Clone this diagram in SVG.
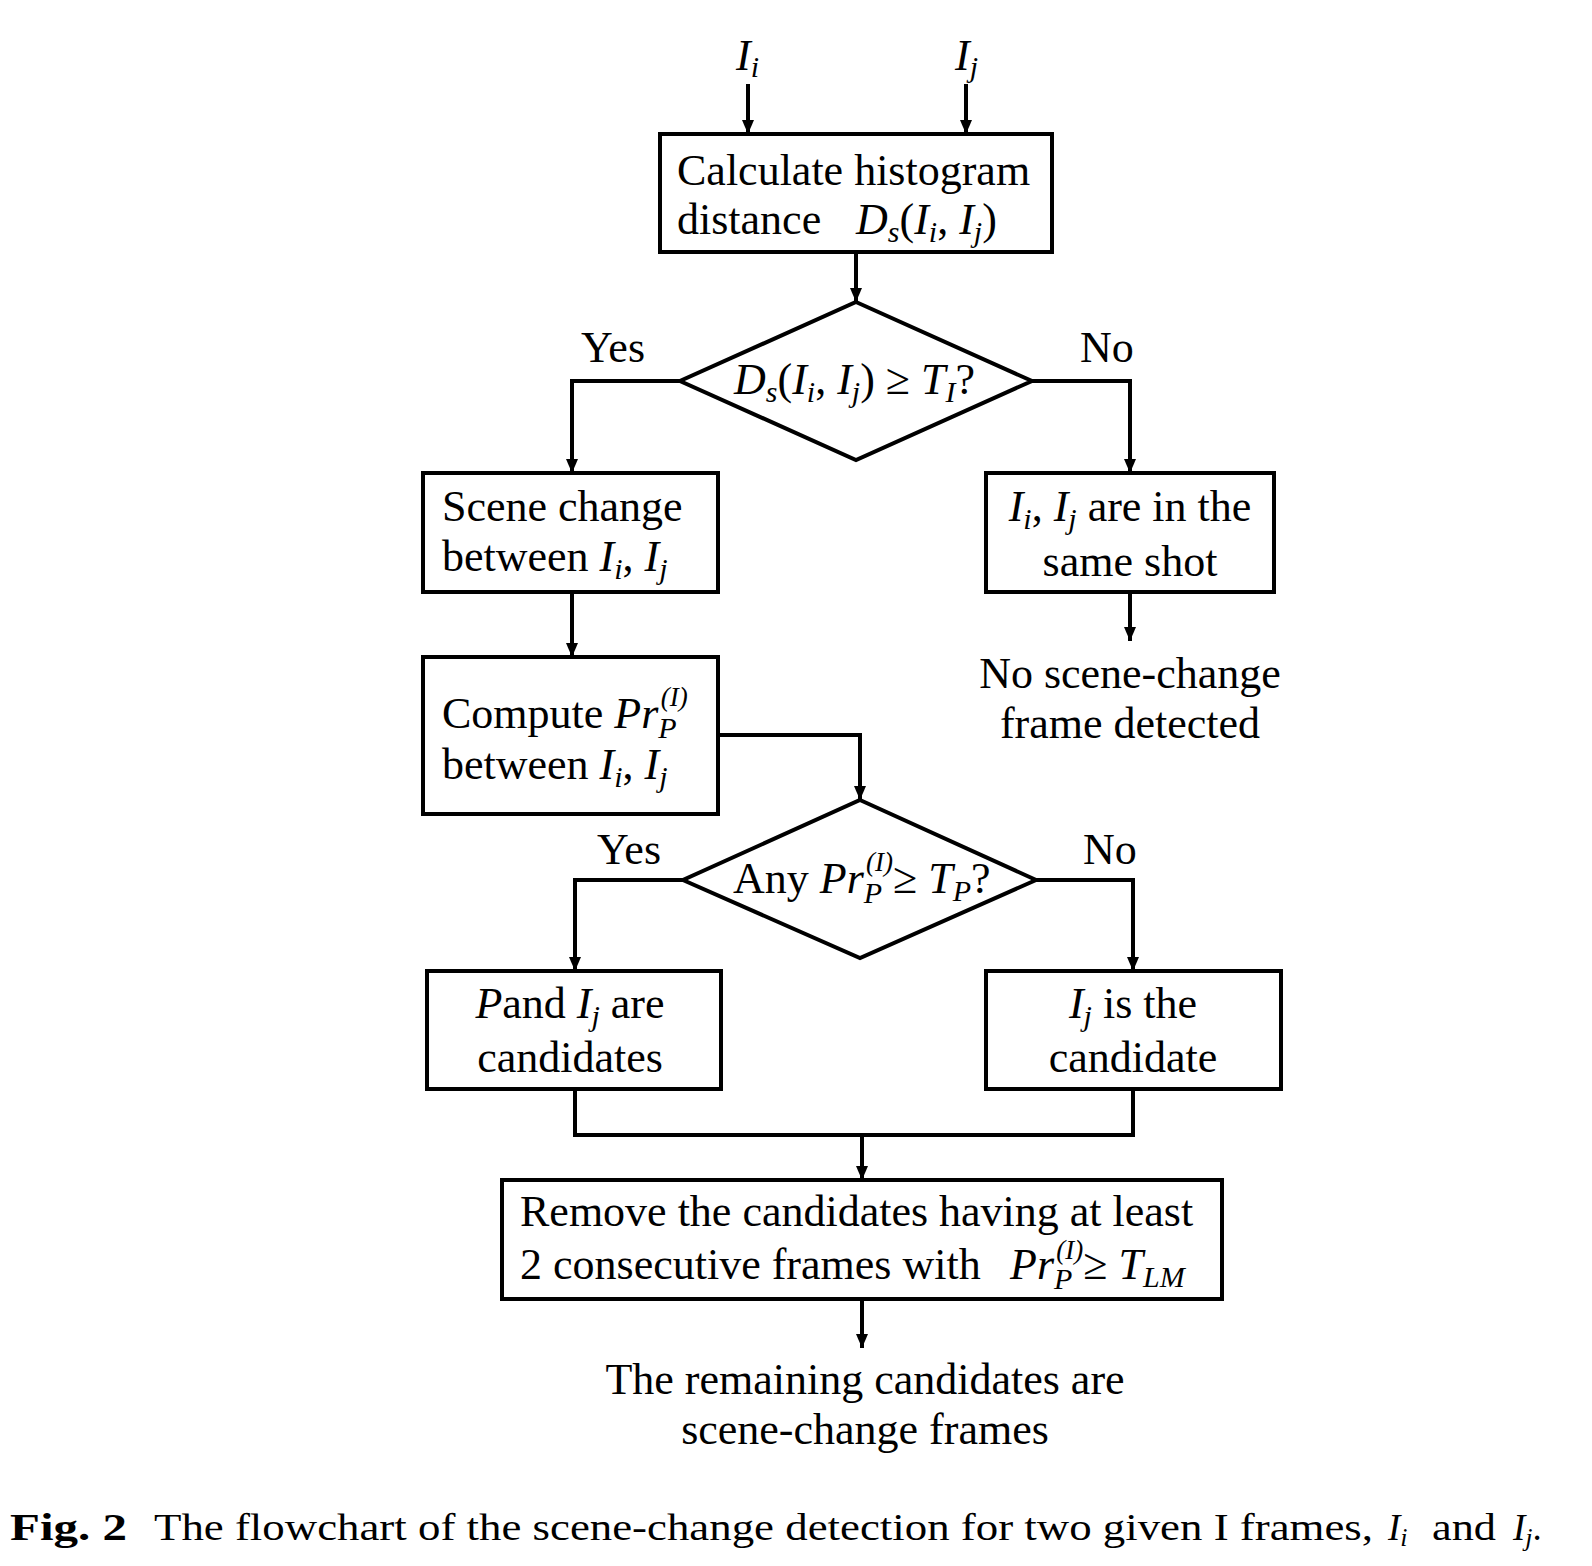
<svg xmlns="http://www.w3.org/2000/svg" width="1592" height="1566" viewBox="0 0 1592 1566">
<style>
.t{font-family:"Liberation Serif","DejaVu Serif",serif;font-size:44px;fill:#000}
.m{font-style:italic}
.s{font-size:30px;font-style:italic}
.sup{font-size:27px;font-style:italic}
.box{fill:#fff;stroke:#000;stroke-width:4}
.ln{fill:none;stroke:#000;stroke-width:4;marker-end:url(#ah)}
.ln2{fill:none;stroke:#000;stroke-width:4}
.cap{font-family:"Liberation Serif","DejaVu Serif",serif;font-size:37px;fill:#000}
</style>
<defs>
<marker id="ah" markerUnits="userSpaceOnUse" markerWidth="14" markerHeight="12" refX="14" refY="6" orient="auto" viewBox="0 0 14 12">
<path d="M0,0 L14,6 L0,12 z" fill="#000"/>
</marker>
</defs>
<rect width="1592" height="1566" fill="#fff"/>

<g id="connectors">
<path class="ln" d="M748,84 V134"/>
<path class="ln" d="M966,84 V134"/>
<path class="ln" d="M856,252 V302"/>
<path class="ln" d="M680,381 H572 V473"/>
<path class="ln" d="M1032,381 H1130 V473"/>
<path class="ln" d="M1130,592 V641"/>
<path class="ln" d="M572,592 V657"/>
<path class="ln" d="M718,735 H860 V800"/>
<path class="ln" d="M683,880 H575 V971"/>
<path class="ln" d="M1036,880 H1133 V971"/>
<path class="ln2" d="M575,1089 V1135 H1133 V1089"/>
<path class="ln" d="M862,1135 V1180"/>
<path class="ln" d="M862,1299 V1348"/>
</g>

<g id="in-i"><text class="t m" x="736" y="70" font-size="42">I<tspan class="s" dy="7" font-size="28">i</tspan></text></g>
<g id="in-j"><text class="t m" x="955" y="70" font-size="42">I<tspan class="s" dy="7" font-size="28">j</tspan></text></g>

<g id="calc">
<rect class="box" x="660" y="134" width="392" height="118"/>
<text class="t" x="677" y="185">Calculate histogram</text>
<text class="t" x="677" y="234">distance<tspan x="856" class="m">D</tspan><tspan class="s" dy="8">s</tspan><tspan dy="-8">(</tspan><tspan class="m">I</tspan><tspan class="s" dy="8">i</tspan><tspan dy="-8">, </tspan><tspan class="m">I</tspan><tspan class="s" dy="8">j</tspan><tspan dy="-8">)</tspan></text>
</g>

<g id="dec1">
<polygon class="box" points="856,302 1032,381 856,460 680,381"/>
<text class="t" x="734" y="394"><tspan class="m">D</tspan><tspan class="s" dy="8">s</tspan><tspan dy="-8">(</tspan><tspan class="m">I</tspan><tspan class="s" dy="8">i</tspan><tspan dy="-8">, </tspan><tspan class="m">I</tspan><tspan class="s" dy="8">j</tspan><tspan dy="-8">) ≥ </tspan><tspan class="m">T</tspan><tspan class="s" dy="8">I</tspan><tspan dy="-8">?</tspan></text>
<text class="t" x="581" y="362">Yes</text>
<text class="t" x="1080" y="362">No</text>
</g>

<g id="scene">
<rect class="box" x="423" y="473" width="295" height="119"/>
<text class="t" x="442" y="521">Scene change</text>
<text class="t" x="442" y="571">between <tspan class="m">I</tspan><tspan class="s" dy="8">i</tspan><tspan dy="-8">, </tspan><tspan class="m">I</tspan><tspan class="s" dy="8">j</tspan></text>
</g>

<g id="same">
<rect class="box" x="986" y="473" width="288" height="119"/>
<text class="t" x="1130" y="521" text-anchor="middle"><tspan class="m">I</tspan><tspan class="s" dy="8">i</tspan><tspan dy="-8">, </tspan><tspan class="m">I</tspan><tspan class="s" dy="8">j</tspan><tspan dy="-8"> are in the</tspan></text>
<text class="t" x="1130" y="576" text-anchor="middle">same shot</text>
</g>

<g id="noscene">
<text class="t" x="1130" y="688" text-anchor="middle">No scene-change</text>
<text class="t" x="1130" y="738" text-anchor="middle">frame detected</text>
</g>

<g id="compute">
<rect class="box" x="423" y="657" width="295" height="157"/>
<text class="t" x="442" y="728">Compute <tspan class="m">Pr</tspan><tspan class="s" dy="10">P</tspan><tspan class="sup" dx="-16" dy="-32">(I)</tspan></text>
<text class="t" x="442" y="779">between <tspan class="m">I</tspan><tspan class="s" dy="8">i</tspan><tspan dy="-8">, </tspan><tspan class="m">I</tspan><tspan class="s" dy="8">j</tspan></text>
</g>

<g id="dec2">
<polygon class="box" points="860,800 1036,880 860,958 683,880"/>
<text class="t" x="733" y="893">Any <tspan class="m">Pr</tspan><tspan class="s" dy="10">P</tspan><tspan class="sup" dx="-16" dy="-32">(I)</tspan><tspan dy="22">≥ </tspan><tspan class="m">T</tspan><tspan class="s" dy="8">P</tspan><tspan dy="-8">?</tspan></text>
<text class="t" x="597" y="864">Yes</text>
<text class="t" x="1083" y="864">No</text>
</g>

<g id="both">
<rect class="box" x="427" y="971" width="294" height="118"/>
<text class="t" x="570" y="1018" text-anchor="middle"><tspan class="m">P</tspan>and <tspan class="m">I</tspan><tspan class="s" dy="8">j</tspan><tspan dy="-8"> are</tspan></text>
<text class="t" x="570" y="1072" text-anchor="middle">candidates</text>
</g>

<g id="only">
<rect class="box" x="986" y="971" width="295" height="118"/>
<text class="t" x="1133" y="1018" text-anchor="middle"><tspan class="m">I</tspan><tspan class="s" dy="8">j</tspan><tspan dy="-8"> is the</tspan></text>
<text class="t" x="1133" y="1072" text-anchor="middle">candidate</text>
</g>

<g id="remove">
<rect class="box" x="502" y="1180" width="720" height="119"/>
<text class="t" x="520" y="1226">Remove the candidates having at least</text>
<text class="t" x="520" y="1279">2 consecutive frames with<tspan x="1010" class="m">Pr</tspan><tspan class="s" dy="10">P</tspan><tspan class="sup" dx="-16" dy="-30">(I)</tspan><tspan dy="20">≥ </tspan><tspan class="m">T</tspan><tspan class="s" dy="8">LM</tspan></text>
</g>

<g id="result">
<text class="t" x="865" y="1394" text-anchor="middle">The remaining candidates are</text>
<text class="t" x="865" y="1444" text-anchor="middle">scene-change frames</text>
</g>

<g id="caption">
<text class="cap" x="10" y="1540" font-weight="bold" textLength="117" lengthAdjust="spacingAndGlyphs">Fig. 2</text>
<text class="cap" x="154" y="1540" textLength="1219" lengthAdjust="spacingAndGlyphs">The flowchart of the scene-change detection for two given I frames,</text>
<text class="cap" x="1388" y="1540"><tspan class="m">I</tspan><tspan class="m" font-size="26" dy="6">i</tspan></text>
<text class="cap" x="1432" y="1540" textLength="64" lengthAdjust="spacingAndGlyphs">and</text>
<text class="cap" x="1513" y="1540"><tspan class="m">I</tspan><tspan class="m" font-size="26" dy="6">j</tspan><tspan dy="-6">.</tspan></text>
</g>
</svg>
